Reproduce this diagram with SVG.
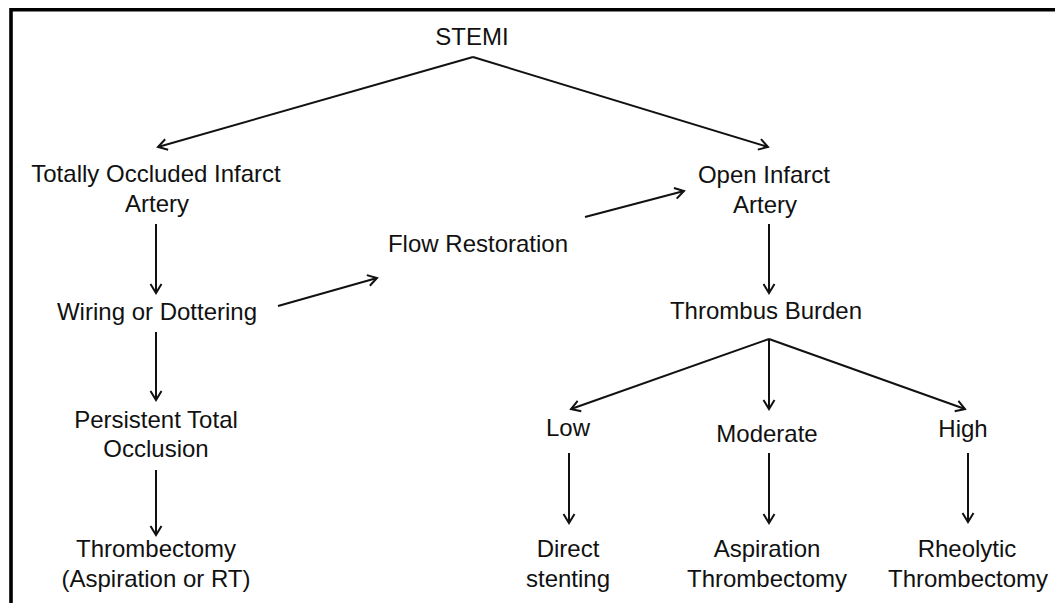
<svg xmlns="http://www.w3.org/2000/svg" width="1055" height="603" viewBox="0 0 1055 603">
<style>
text{font-family:"Liberation Sans",Arial,sans-serif;font-size:24px;fill:#111;text-anchor:middle}
.c line{stroke:#111;stroke-width:2;marker-end:url(#ah)}
</style>
<defs>
<marker id="ah" markerUnits="userSpaceOnUse" viewBox="-12 -8 14 16" refX="0" refY="0" markerWidth="14" markerHeight="16" orient="auto">
<path d="M-9,-5.5 L0,0 L-9,5.5" fill="none" stroke="#111" stroke-width="2"/>
</marker>
</defs>
<rect width="1055" height="603" fill="#fff"/>
<path d="M11,603 V9.7 H1055" fill="none" stroke="#000" stroke-width="3.6"/>
<g id="stemi"><text x="472" y="45">STEMI</text></g>
<g id="totally"><text x="156" y="182">Totally Occluded Infarct</text><text x="157" y="212">Artery</text></g>
<g id="wiring"><text x="157" y="320">Wiring or Dottering</text></g>
<g id="persistent"><text x="156" y="428">Persistent Total</text><text x="156" y="457">Occlusion</text></g>
<g id="thrombectomy"><text x="156" y="557">Thrombectomy</text><text x="156" y="587">(Aspiration or RT)</text></g>
<g id="flow"><text x="478" y="252">Flow Restoration</text></g>
<g id="open"><text x="764" y="183">Open Infarct</text><text x="765" y="213">Artery</text></g>
<g id="burden"><text x="766" y="319">Thrombus Burden</text></g>
<g id="low"><text x="568" y="436">Low</text></g>
<g id="moderate"><text x="767" y="442">Moderate</text></g>
<g id="high"><text x="963" y="437">High</text></g>
<g id="direct"><text x="568" y="557">Direct</text><text x="568" y="587">stenting</text></g>
<g id="aspiration"><text x="767" y="557">Aspiration</text><text x="767" y="587">Thrombectomy</text></g>
<g id="rheolytic"><text x="967" y="557">Rheolytic</text><text x="968" y="587">Thrombectomy</text></g>
<g id="connectors" class="c">
<line x1="473" y1="57" x2="158" y2="147"/>
<line x1="473" y1="57" x2="768" y2="147"/>
<line x1="156" y1="224" x2="156" y2="293"/>
<line x1="156" y1="332" x2="156" y2="400"/>
<line x1="156" y1="470" x2="156" y2="535"/>
<line x1="278" y1="306" x2="377" y2="278"/>
<line x1="585" y1="217" x2="684" y2="191"/>
<line x1="769" y1="224" x2="769" y2="293"/>
<line x1="769" y1="339" x2="571" y2="409"/>
<line x1="769" y1="339" x2="769" y2="409"/>
<line x1="769" y1="339" x2="965" y2="409"/>
<line x1="569" y1="453" x2="569" y2="523"/>
<line x1="769" y1="453" x2="769" y2="523"/>
<line x1="968" y1="453" x2="968" y2="522"/>
</g>
</svg>
